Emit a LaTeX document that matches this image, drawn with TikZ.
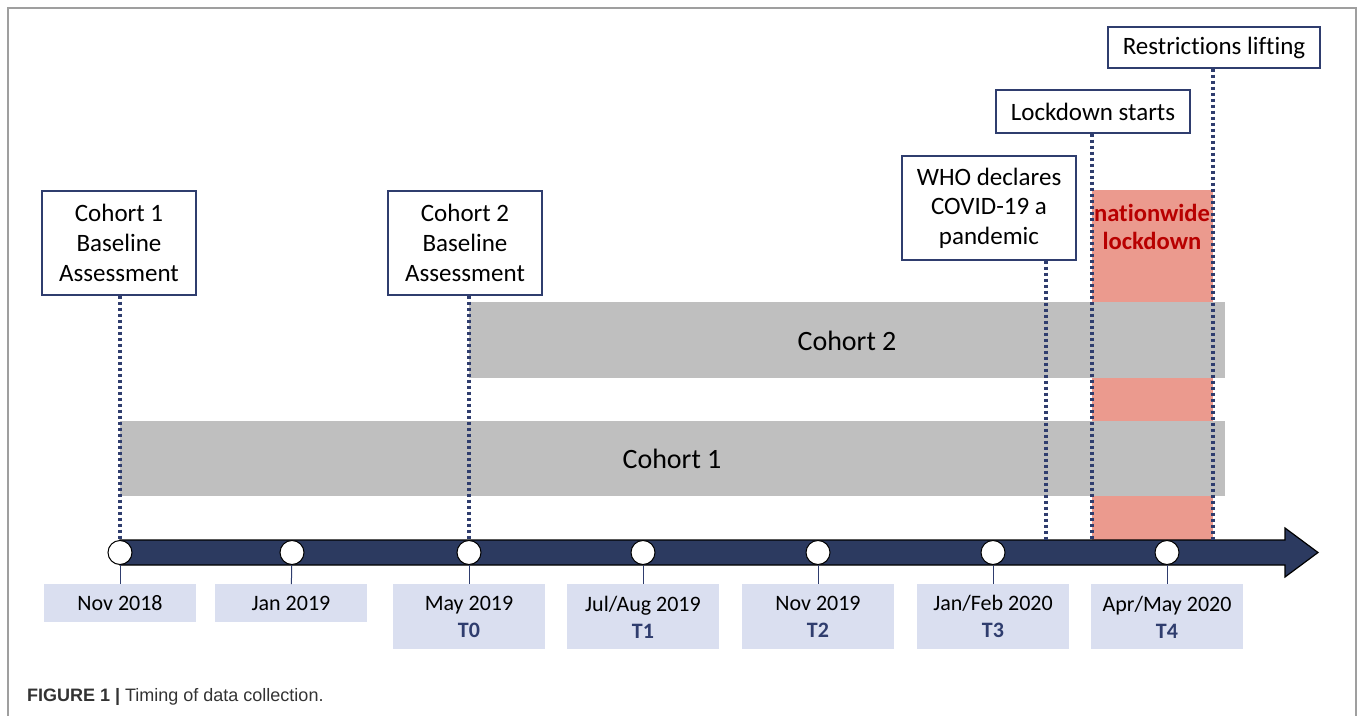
\documentclass[tikz,border=0pt]{standalone}
\usepackage{fontspec}
\setmainfont{Carlito}[Ligatures=NoCommon]
\newfontfamily\capfont{Liberation Sans}
\usetikzlibrary{calc}
\definecolor{navy}{HTML}{2F3D6E}
\definecolor{axisblue}{HTML}{2C3A60}
\definecolor{datefill}{HTML}{DADFF0}
\definecolor{cohortgrey}{HTML}{BFBFBF}
\definecolor{lockred}{HTML}{EB9A8E}
\definecolor{darkred}{HTML}{B80000}
\tikzset{
  eventbox/.style={draw=navy,fill=white,line width=0.6pt,align=center,inner sep=2pt,
    font=\fontsize{12.5}{14.8}\selectfont},
  datebox/.style={anchor=north,fill=datefill,minimum width=76pt,minimum height=19pt,
    align=center,inner sep=1pt,font=\fontsize{11}{13.5}\selectfont},
  milestone/.style={circle,draw=black,fill=white,line width=0.5pt,minimum size=12pt,inner sep=0pt},
  guide/.style={navy,line width=1.6pt,dash pattern=on 1.5pt off 1.5pt},
  tick/.style={navy,line width=0.5pt}
}
\begin{document}
\begin{tikzpicture}[x=0.5pt,y=-0.5pt]
\useasboundingbox (0,0) rectangle (1358,716);
\draw[gray!75,line width=1pt] (8,716) -- (8,8) -- (1356,8) -- (1356,716);
\fill[lockred] (1092,190) rectangle (1213,540);
\node[text=darkred,align=center,font=\fontsize{12.3}{14}\selectfont\bfseries] (lockdown) at (1152,227) {nationwide\\lockdown};
\fill[cohortgrey] (469,302) rectangle (1225,378);
\node[font=\fontsize{14}{16}\selectfont] (cohort2) at (847,341) {Cohort 2};
\fill[cohortgrey] (120,421) rectangle (1225,496);
\node[font=\fontsize{14}{16}\selectfont] (cohort1) at (672,459) {Cohort 1};
\draw[black,line width=0.6pt,fill=axisblue] (120,540) -- (1285,540) -- (1285,528) -- (1318,552.5)
  -- (1285,577) -- (1285,565) -- (120,565) -- cycle;
\foreach \x [count=\i] in {120,292,469,643,818,993,1167}
  \node[milestone] (m\i) at (\x,552.5) {};
\foreach \x/\d [count=\i] in {120/Nov 2018,291/Jan 2019}
  \node[datebox] (d\i) at (\x,584) {\d};
\foreach \x/\d/\t [count=\i from 3] in {469/May 2019/T0,643/Jul{/}Aug 2019/T1,818/Nov 2019/T2,993/Jan{/}Feb 2020/T3,1167/Apr{/}May 2020/T4}
  \node[datebox,minimum height=32.5pt] (d\i) at (\x,584) {\d\\\textcolor{navy}{\bfseries\t}};
\foreach \i in {1,...,7}
  \draw[tick] (m\i) -- (d\i);
\node[eventbox,minimum width=77pt,minimum height=52pt] (c1base) at (119,243) {Cohort 1\\Baseline\\Assessment};
\node[eventbox,minimum width=77pt,minimum height=52pt] (c2base) at (465,243) {Cohort 2\\Baseline\\Assessment};
\node[eventbox,minimum width=87pt,minimum height=52pt] (who) at (989,208) {WHO declares\\COVID-19 a\\pandemic};
\node[eventbox,minimum width=97pt,minimum height=21.5pt] (lockstart) at (1093,111.5) {Lockdown starts};
\node[eventbox,minimum width=106pt,minimum height=20.5pt] (lift) at (1214,47.5) {Restrictions lifting};
\coordinate (whoax) at (1046,540);
\coordinate (lockax) at (1092,540);
\coordinate (liftax) at (1213,540);
\draw[guide] (c1base.south -| m1) -- (m1.north);
\draw[guide] (c2base.south -| m3) -- (m3.north);
\draw[guide] (who.south -| whoax) -- (whoax);
\draw[guide] (lockstart.south -| lockax) -- (lockax);
\draw[guide] (lift.south -| liftax) -- (liftax);
\node[anchor=west,text=black!80,font=\capfont\fontsize{9}{11}\selectfont] (caption) at (20,697) {\textbf{FIGURE 1 |} Timing of data collection.};
\end{tikzpicture}
\end{document}
